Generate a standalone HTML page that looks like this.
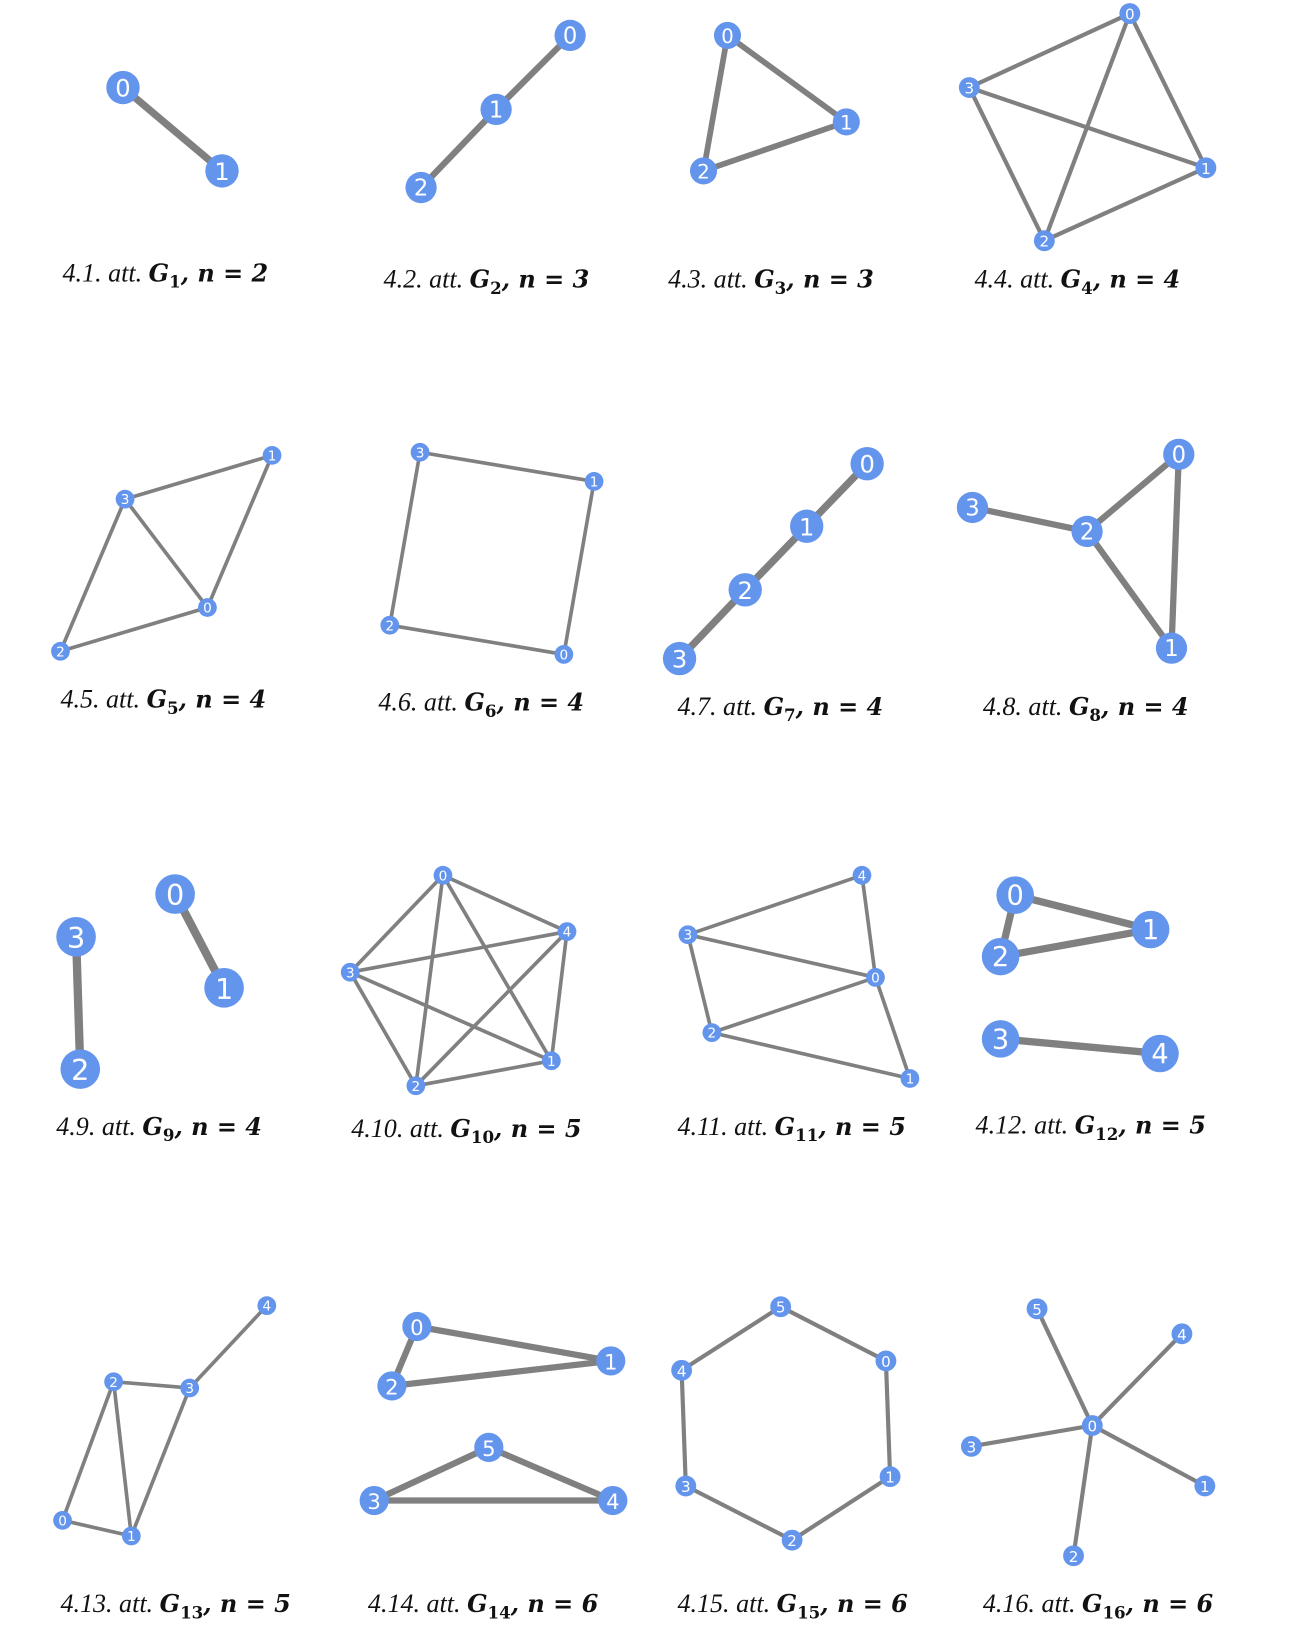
<!DOCTYPE html>
<html><head><meta charset="utf-8"><style>
html,body{margin:0;padding:0;background:#fff;}
svg{display:block;}
.cap{font-family:"Liberation Serif",serif;font-size:25px;fill:#111;}
.it{font-style:italic;}
.m{font-family:"DejaVu Serif",serif;font-style:italic;font-weight:bold;font-size:23px;}
.sub{font-family:"DejaVu Serif",serif;font-weight:bold;font-size:16px;}
.lbl{font-family:"DejaVu Sans",sans-serif;fill:#fff;text-anchor:middle;dominant-baseline:central;}
</style></head><body>
<svg id="chart" width="1307" height="1636" viewBox="0 0 1254 1570" preserveAspectRatio="none" xmlns="http://www.w3.org/2000/svg"></svg>
<script>
const g1_labels=[0,1]; const g1_x=[118,213]; const g1_y=[84,164]; const g1_edges=[[0,1]];
const g2_labels=[0,1,2]; const g2_x=[547,476,404]; const g2_y=[34,105,180]; const g2_edges=[[0,1],[1,2]];
const g3_labels=[0,1,2]; const g3_x=[698,812,675]; const g3_y=[34,117,164]; const g3_edges=[[0,1],[0,2],[1,2]];
const g4_labels=[0,3,1,2]; const g4_x=[1084,930,1157,1002]; const g4_y=[13,84,161,231]; const g4_edges=[[0,1],[0,2],[0,3],[1,2],[1,3],[2,3]];
const g5_labels=[1,3,0,2]; const g5_x=[261,120,199,58]; const g5_y=[437,479,583,625]; const g5_edges=[[0,1],[0,2],[1,2],[1,3],[2,3]];
const g6_labels=[3,1,2,0]; const g6_x=[403,570,374,541]; const g6_y=[434,462,600,628]; const g6_edges=[[0,1],[0,2],[1,3],[2,3]];
const g7_labels=[0,1,2,3]; const g7_x=[832,774,715,652]; const g7_y=[445,505,566,632]; const g7_edges=[[0,1],[1,2],[2,3]];
const g8_labels=[3,0,2,1]; const g8_x=[933,1131,1043,1124]; const g8_y=[487,436,510,622]; const g8_edges=[[0,2],[2,1],[2,3],[1,3]];
const g9_labels=[0,1,3,2]; const g9_x=[168,215,73,77]; const g9_y=[858,948,899,1026]; const g9_edges=[[0,1],[2,3]];
const g10_labels=[0,4,3,1,2]; const g10_x=[425,544,336,529,399]; const g10_y=[840,894,933,1018,1042]; const g10_edges=[[0,1],[0,2],[0,3],[0,4],[1,2],[1,3],[1,4],[2,3],[2,4],[3,4]];
const g11_labels=[4,3,0,2,1]; const g11_x=[827,660,840,683,873]; const g11_y=[840,897,938,991,1035]; const g11_edges=[[0,1],[0,2],[1,2],[1,3],[3,2],[2,4],[3,4]];
const g12_labels=[0,1,2,3,4]; const g12_x=[974,1104,960,960,1113]; const g12_y=[859,892,918,997,1011]; const g12_edges=[[0,1],[0,2],[2,1],[3,4]];
const g13_labels=[4,2,3,0,1]; const g13_x=[256,109,182,60,126]; const g13_y=[1253,1326,1332,1459,1474]; const g13_edges=[[0,2],[1,2],[1,3],[1,4],[2,4],[3,4]];
const g14_labels=[0,1,2,5,3,4]; const g14_x=[400,586,376,469,359,588]; const g14_y=[1273,1306,1330,1389,1440,1440]; const g14_edges=[[0,1],[0,2],[2,1],[3,4],[3,5],[4,5]];
const g15_labels=[5,0,4,1,3,2]; const g15_x=[749,850,654,854,658,760]; const g15_y=[1254,1306,1315,1417,1426,1478]; const g15_edges=[[0,1],[1,3],[3,5],[5,4],[4,2],[2,0]];
const g16_labels=[5,4,0,3,1,2]; const g16_x=[995,1134,1048,932,1156,1030]; const g16_y=[1256,1280,1368,1388,1426,1493]; const g16_edges=[[2,0],[2,1],[2,3],[2,4],[2,5]];
const captionIdx=["1","2","3","4","5","6","7","8","9","10","11","12","13","14","15","16"];
const captionN=[2,3,3,4,4,4,4,4,4,5,5,5,5,6,6,6];

const graphs=[
 [g1_labels,g1_x,g1_y,g1_edges,16,7],[g2_labels,g2_x,g2_y,g2_edges,15,6],[g3_labels,g3_x,g3_y,g3_edges,13,5.5],[g4_labels,g4_x,g4_y,g4_edges,10,4],
 [g5_labels,g5_x,g5_y,g5_edges,9,3.5],[g6_labels,g6_x,g6_y,g6_edges,9,3.5],[g7_labels,g7_x,g7_y,g7_edges,16,7],[g8_labels,g8_x,g8_y,g8_edges,15,6],
 [g9_labels,g9_x,g9_y,g9_edges,19,8],[g10_labels,g10_x,g10_y,g10_edges,9,3.5],[g11_labels,g11_x,g11_y,g11_edges,9,3.5],[g12_labels,g12_x,g12_y,g12_edges,18,7],
 [g13_labels,g13_x,g13_y,g13_edges,9,3.5],[g14_labels,g14_x,g14_y,g14_edges,14,6],[g15_labels,g15_x,g15_y,g15_edges,10,4],[g16_labels,g16_x,g16_y,g16_edges,10,4]
];
const capX=[60,368,641,935,58,363,650,943,54,337,650,936,58,353,650,943];
const capY=[270,276,276,276,679,682,686,686,1089,1091,1089,1088,1547,1547,1547,1547];
const NS="http://www.w3.org/2000/svg";
const svg=document.getElementById('chart');
function mk(t,a,p){const e=document.createElementNS(NS,t);for(const k in a)e.setAttribute(k,a[k]);(p||svg).appendChild(e);return e;}
graphs.forEach((g,gi)=>{
 const [lab,xs,ys,ed,r,w]=g;
 const grp=mk('g',{});
 
 
 ed.forEach(([a,b])=>{
  const l=mk('line',{x1:xs[a],y1:ys[a],x2:xs[b],y2:ys[b],stroke:'#808080','stroke-width':w},grp);
  
  
 });
 lab.forEach((n,i)=>{
  const c=mk('circle',{cx:xs[i],cy:ys[i],r:r,fill:'#6495ED'},grp);
  
  
  const t=mk('text',{x:xs[i],y:ys[i]+1,class:'lbl','font-size':r*1.45},grp);
  t.textContent=n;
  
  
 });
 const cap=mk('text',{x:capX[gi],y:capY[gi],class:'cap'});
 
 
 cap.innerHTML='<tspan class="it">4.'+captionIdx[gi]+'. att. </tspan><tspan class="m">G</tspan><tspan class="sub" dy="6">'+captionIdx[gi]+'</tspan><tspan class="m" dy="-6">, n = '+captionN[gi]+'</tspan>';
});
</script>
</body></html>
